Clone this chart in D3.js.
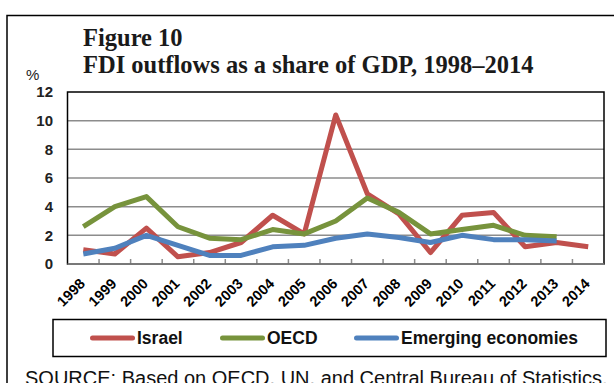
<!DOCTYPE html>
<html>
<head>
<meta charset="utf-8">
<script src="https://cdn.jsdelivr.net/npm/d3@7/dist/d3.min.js"></script>
<style>
  html, body { margin: 0; padding: 0; background: #fff; }
  svg { display: block; }
</style>
</head>
<body>
<svg id="chart" width="614" height="383"></svg>
<script>
const years = ["1998","1999","2000","2001","2002","2003","2004","2005","2006","2007","2008","2009","2010","2011","2012","2013","2014"];
const israel = [1.0, 0.7, 2.5, 0.5, 0.8, 1.5, 3.4, 2.1, 10.4, 4.9, 3.5, 0.8, 3.4, 3.6, 1.2, 1.5, 1.2];
const oecd = [2.6, 4.0, 4.7, 2.6, 1.8, 1.7, 2.4, 2.1, 3.0, 4.6, 3.6, 2.1, 2.4, 2.7, 2.0, 1.9, null];
const emerging = [0.7, 1.1, 2.0, 1.3, 0.6, 0.6, 1.2, 1.3, 1.8, 2.1, 1.85, 1.5, 2.0, 1.7, 1.7, 1.6, null];
const yTicks = [0, 2, 4, 6, 8, 10, 12];
const seriesNames = ["Israel", "OECD", "Emerging economies"];
const seriesColors = ["#C0504D", "#77933C", "#4F81BD"];
const titleLines = ["Figure 10", "FDI outflows as a share of GDP, 1998\u20132014"];
const sourceText = "SOURCE: Based on OECD, UN, and Central Bureau of Statistics.";

const svg = d3.select("#chart");
const pLeft = 67.5, pRight = 604, pTop = 92, pBottom = 264;

// outer frame
svg.append("rect").attr("x", 7).attr("y", 15.5).attr("width", 640).attr("height", 400)
  .attr("fill", "none").attr("stroke", "#000").attr("stroke-width", 1.5);

// titles
svg.append("text").attr("x", 83).attr("y", 45.5)
  .attr("font-family", "Liberation Serif, Times New Roman, serif").attr("font-weight", "bold")
  .attr("font-size", 24.5).attr("fill", "#1a1a1a").text(titleLines[0]);
svg.append("text").attr("x", 83).attr("y", 72.5)
  .attr("font-family", "Liberation Serif, Times New Roman, serif").attr("font-weight", "bold")
  .attr("font-size", 24.5).attr("fill", "#1a1a1a").text(titleLines[1]);

const x = d3.scaleBand().domain(years).range([pLeft, pRight]);
const y = d3.scaleLinear().domain([0, 12]).range([pBottom, pTop]);

// gridlines
svg.append("g").selectAll("line").data(yTicks.filter(d => d > 0 && d < 12)).join("line")
  .attr("x1", pLeft).attr("x2", pRight).attr("y1", d => y(d)).attr("y2", d => y(d))
  .attr("stroke", "#8c8c8c").attr("stroke-width", 1.5);

// x tick marks
svg.append("g").selectAll("line").data(years.slice(1)).join("line")
  .attr("x1", d => x(d)).attr("x2", d => x(d)).attr("y1", pBottom).attr("y2", pBottom - 5)
  .attr("stroke", "#8c8c8c").attr("stroke-width", 1.5);

// plot frame
svg.append("rect").attr("x", pLeft).attr("y", pTop).attr("width", pRight - pLeft).attr("height", pBottom - pTop)
  .attr("fill", "none").attr("stroke", "#000").attr("stroke-width", 1.5);
svg.append("line").attr("x1", pLeft).attr("x2", pRight).attr("y1", pBottom).attr("y2", pBottom)
  .attr("stroke", "#8c8c8c").attr("stroke-width", 1.5);

// y tick labels
svg.append("g").selectAll("text").data(yTicks).join("text")
  .attr("x", 53).attr("y", d => y(d)).attr("dy", "0.36em")
  .attr("text-anchor", "end").attr("font-family", "Liberation Sans, Arial, sans-serif")
  .attr("font-weight", "bold").attr("font-size", 15).attr("fill", "#222").text(d => d);
svg.append("text").attr("x", 26).attr("y", 80)
  .attr("font-family", "Liberation Sans, Arial, sans-serif").attr("font-size", 15).attr("fill", "#222").text("%");

// x labels
svg.append("g").selectAll("text").data(years).join("text")
  .attr("transform", d => `translate(${x(d) + x.bandwidth() / 2 - 1},${pBottom + 17}) rotate(-45)`)
  .attr("text-anchor", "end").attr("dy", "0.35em")
  .attr("font-family", "Liberation Sans, Arial, sans-serif").attr("font-weight", "bold")
  .attr("font-size", 14.5).attr("fill", "#000").text(d => d);

// lines
const allSeries = [israel, oecd, emerging];
const line = d3.line()
  .defined(d => d != null)
  .x((d, i) => x(years[i]) + x.bandwidth() / 2)
  .y(d => y(d));
allSeries.forEach((s, k) => {
  svg.append("path").datum(s).attr("d", line).attr("fill", "none")
    .attr("stroke", seriesColors[k]).attr("stroke-width", 5)
    .attr("stroke-linejoin", "round");
});

// legend
svg.append("rect").attr("x", 53).attr("y", 319.5).attr("width", 553).attr("height", 37)
  .attr("fill", "none").attr("stroke", "#000").attr("stroke-width", 1.5);
const legX = [90, 220, 354];
seriesNames.forEach((n, k) => {
  svg.append("line").attr("x1", legX[k] + 2.5).attr("x2", legX[k] + 42.5).attr("y1", 338).attr("y2", 338)
    .attr("stroke", seriesColors[k]).attr("stroke-width", 5).attr("stroke-linecap", "round");
  svg.append("text").attr("x", legX[k] + 47).attr("y", 338).attr("dy", "0.36em")
    .attr("font-family", "Liberation Sans, Arial, sans-serif").attr("font-weight", "bold")
    .attr("font-size", 17.5).attr("fill", "#111").text(n);
});

// source
svg.append("text").attr("x", 25).attr("y", 385)
  .attr("font-family", "Liberation Sans, Arial, sans-serif")
  .attr("font-size", 20).attr("fill", "#111").text(sourceText);
</script>
</body>
</html>
